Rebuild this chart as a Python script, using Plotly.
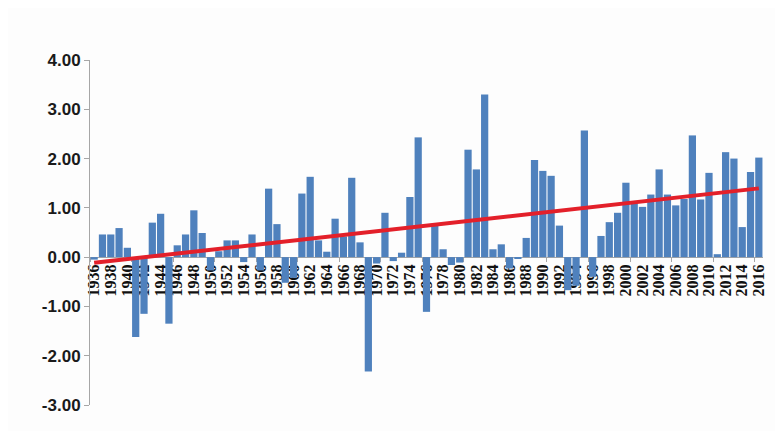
import numpy as np
import plotly.graph_objects as go

years = list(range(1936, 2017))
anomaly = [
    -0.05, 0.46, 0.46, 0.59, 0.19, -1.62, -1.15, 0.70, 0.88, -1.35,
    0.24, 0.46, 0.95, 0.49, -0.27, 0.12, 0.34, 0.34, -0.10, 0.46,
    -0.27, 1.39, 0.67, -0.52, -0.42, 1.29, 1.63, 0.34, 0.11, 0.78,
    0.42, 1.61, 0.30, -2.32, -0.13, 0.90, -0.08, 0.09, 1.22, 2.43,
    -1.11, 0.64, 0.16, -0.16, -0.11, 2.18, 1.78, 3.30, 0.16, 0.26,
    -0.23, -0.03, 0.39, 1.97, 1.75, 1.65, 0.64, -0.67, -0.58, 2.57,
    -0.40, 0.43, 0.71, 0.90, 1.51, 1.09, 1.02, 1.27, 1.78, 1.27,
    1.05, 1.18, 2.47, 1.17, 1.71, 0.06, 2.13, 2.00, 0.61, 1.73,
    2.02,
]
y_ticks = [4, 3, 2, 1, 0, -1, -2, -3]
y_labels = ["%.2f" % v for v in y_ticks]  # plain hyphen like Excel

# linear trend like the Excel trendline
slope, intercept = np.polyfit(years, anomaly, 1)
trend = [slope * y + intercept for y in years]

fig = go.Figure()
fig.add_trace(go.Bar(x=years, y=anomaly, marker_color="#4f81bd",
                     marker_line_width=0, showlegend=False))
fig.add_trace(go.Scatter(x=years, y=trend, mode="lines",
                         line=dict(color="#e3202a", width=4), showlegend=False))

# page body adds 8px, margins account for it
fig.update_layout(
    width=783, height=431,
    margin=dict(l=82, r=28, t=52, b=34),
    paper_bgcolor="#fdfdfd", plot_bgcolor="#fdfdfd",
    bargap=0.13,
    xaxis=dict(
        range=[1935.5, 2016.5], tick0=1936, dtick=2, tickangle=-90,
        anchor="free", position=3 / 7, automargin=False, layer="below traces",
        showline=True, linecolor="#a6a6a6", linewidth=1,
        showgrid=False, zeroline=False, ticks="",
        tickfont=dict(family="Liberation Serif", size=16, color="#111111", weight="bold"),
        minor=dict(tick0=1935.5, dtick=5, ticks="outside", ticklen=4,
                   tickcolor="#a6a6a6", showgrid=False),
    ),
    yaxis=dict(
        range=[-3, 4], tickvals=y_ticks, ticktext=y_labels, automargin=False,
        showline=True, linecolor="#a6a6a6", linewidth=1,
        ticks="outside", ticklen=5, tickcolor="#a6a6a6",
        showgrid=False, zeroline=False,
        tickfont=dict(family="Liberation Sans", size=17, color="#1a1a1a", weight="bold"),
    ),
)

fig.write_html("out.html")
